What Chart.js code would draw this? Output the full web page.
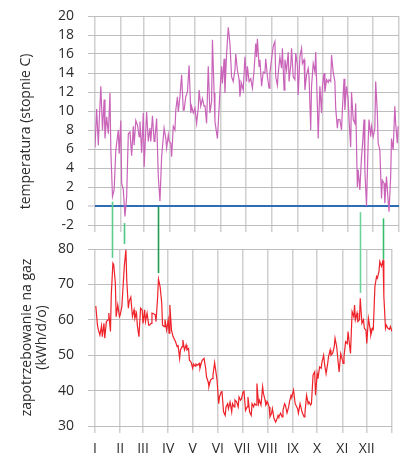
<!DOCTYPE html>
<html>
<head>
<meta charset="utf-8">
<script src="https://cdn.jsdelivr.net/npm/chart.js@4.4.1/dist/chart.umd.min.js"></script>
<style>
  body { margin: 0; background: #fff; overflow: hidden; }
  #wrap { position: relative; width: 400px; height: 458px; overflow: hidden; }
  canvas { position: absolute; left: 0; }
  #tempChart { top: -8px; }
  #gasChart { top: 190px; }
</style>
</head>
<body>
<div id="wrap">
  <canvas id="tempChart" width="400" height="257"></canvas>
  <canvas id="gasChart" width="400" height="268"></canvas>
</div>
<script>
// month boundaries (day of year) and labels
const monthStarts = [0, 31, 59, 90, 120, 151, 181, 212, 243, 273, 304, 334, 365];
const monthLabels = ['I', 'II', 'III', 'IV', 'V', 'VI', 'VII', 'VIII', 'IX', 'X', 'XI', 'XII'];

// daily temperature
const tempDays = [0,2,4,5,7,9,11,12,14,16,18,19,21,23,25,28,29,31,32,34,36,38,40,42,44,46,47,49,51,53,
  54,56,58,59,61,62,64,66,67,69,71,72,74,76,78,80,81,83,85,86,88,89,91,92,94,96,97,99,100,102,
  104,106,107,109,111,113,115,116,118,120,122,124,125,127,129,131,132,134,136,138,140,141,143,144,147,148,150,152,153,155,
  156,158,160,162,163,164,166,168,169,171,173,174,176,178,180,182,183,
  185,187,189,191,193,194,195,197,198,200,202,204,205,207,209,210,212,214,216,217,
  219,220,222,224,225,227,228,230,232,233,235,236,238,240,241,243,244,246,248,249,
  251,252,254,256,257,259,260,262,264,265,267,268,270,272,273,275,276,278,280,281,
  283,284,286,288,289,291,292,294,296,297,299,300,302,304,305,307,308,310,312,313,
  315,316,318,320,321,323,324,326,328,329,331,332,334,336,337,339,340,342,344,345,
  347,348,350,352,353,355,356,358,360,361,363,364];
const tempValues = [6.2,10.2,6.4,8.7,12.6,8.0,11.2,7.1,9.4,7.6,11.9,5.9,1.0,1.7,5.9,8.0,5.5,9.0,2.4,1.7,
  -1.1,1.0,7.6,7.8,5.3,8.4,6.4,9.0,8.5,7.3,8.9,5.6,9.8,4.1,8.0,9.9,6.8,8.2,6.8,9.5,
  6.8,7.1,9.2,3.1,0.5,5.2,6.2,8.2,7.1,6.1,7.5,6.8,6.6,5.2,8.4,8.0,10.1,11.5,9.9,11.5,
  13.8,10.1,10.1,11.5,12.0,14.8,9.8,10.5,9.8,10.3,8.7,10.3,12.2,10.5,11.3,10.5,10.6,8.7,14.7,9.8,
  11.0,17.5,11.9,8.9,7.1,8.7,12.0,14.7,12.9,15.5,11.9,16.0,18.8,17.1,15.4,13.6,13.1,14.3,16.0,14.3,
  13.3,11.5,12.9,12.2,15.7,13.1,14.7,
  13.1,13.4,12.4,14.3,17.1,15.7,17.6,14.7,15.4,12.6,14.1,14.0,15.5,13.6,12.4,14.0,15.5,16.8,17.3,13.6,
  12.7,14.0,15.7,14.5,16.6,12.2,15.4,14.3,16.2,13.1,14.8,16.6,13.6,13.3,16.1,14.8,11.7,15.7,16.6,15.0,
  15.4,12.2,13.8,14.5,13.6,8.0,12.6,15.0,14.1,16.2,10.5,7.1,12.6,9.8,12.6,14.0,12.0,13.3,13.0,13.3,
  13.1,15.9,14.1,13.1,10.3,8.2,9.1,9.1,8.0,10.1,13.4,10.1,12.6,11.2,9.1,6.2,12.0,9.1,8.7,10.8,
  2.0,3.8,1.7,5.2,6.2,9.1,3.8,0.0,6.8,9.1,7.3,8.4,7.3,8.2,13.1,9.8,6.6,5.9,0.8,2.7,
  2.4,0.3,3.1,0.5,-0.6,3.1,7.1,5.9,10.5,8.7,6.6,8.4];

// daily gas demand (kWh/d/o)
const gasDays = [1,3,4,6,8,9,11,12,14,16,17,19,20,22,23,25,26,28,30,31,
  33,34,36,38,39,41,42,44,46,48,49,51,52,54,56,58,59,61,62,64,
  66,67,69,70,72,74,75,77,78,80,82,83,85,86,88,90,91,92,94,96,
  98,99,101,102,104,105,107,108,110,112,113,115,116,118,120,121,123,124,126,128,
  129,131,132,134,136,137,139,140,142,144,145,147,148,150,152,153,155,156,158,160,
  161,163,164,166,168,169,171,172,174,176,177,179,180,182,183,
  185,187,188,190,192,193,195,196,198,199,201,202,204,206,207,209,210,212,214,215,
  217,218,220,222,223,225,226,228,230,231,233,234,236,238,239,241,242,244,246,247,
  249,250,252,254,255,257,258,260,262,263,265,266,268,270,271,273,274,276,278,279,
  281,282,284,286,287,289,290,292,294,295,297,298,300,302,303,305,306,308,310,311,
  313,314,316,318,319,320,322,323,325,326,328,330,331,333,334,336,338,339,341,342,
  344,346,347,349,350,352,354,355,357,358,360,362,363,365];
const gasValues = [63.9,58.5,57.3,55.7,58.3,55.2,59.0,54.8,59.5,60.0,61.9,56.7,67.0,76.0,75.6,70.4,60.9,64.2,60.9,61.4,
  63.7,67.5,75.1,79.8,71.3,63.3,65.2,66.4,60.9,62.8,60.4,61.9,58.5,55.2,63.3,62.8,59.0,62.8,59.5,61.9,
  58.5,58.5,59.0,61.9,61.7,61.4,59.5,66.6,71.5,69.4,64.7,58.5,58.1,60.0,57.1,60.0,56.2,64.2,57.1,55.2,
  54.3,53.8,52.4,52.9,49.1,51.5,52.4,54.3,51.5,52.9,51.5,51.9,48.6,48.1,46.3,47.5,46.9,47.5,47.2,47.7,
  46.3,48.1,48.6,49.1,46.3,43.9,42.5,41.1,43.0,43.4,44.4,47.9,46.3,43.0,36.3,38.2,39.6,39.9,34.0,33.0,
  35.4,36.3,34.9,36.8,34.0,36.3,35.4,37.3,36.8,35.4,38.2,37.3,37.7,39.6,40.1,
  34.4,35.4,38.2,34.0,33.0,36.3,35.4,36.3,35.9,42.0,36.3,37.3,35.9,41.1,39.2,37.3,35.9,36.8,35.4,32.6,
  33.6,34.9,32.1,31.1,31.6,33.0,32.6,33.6,32.6,34.4,36.3,35.9,33.7,35.4,36.8,38.7,38.4,40.1,36.3,36.3,
  34.9,33.6,36.3,34.4,33.6,32.6,33.6,38.7,36.3,36.8,35.9,36.3,44.4,45.3,38.7,44.8,43.4,46.7,46.3,48.1,
  50.0,47.7,44.8,47.7,49.6,51.5,50.0,50.5,52.4,54.8,52.4,50.0,45.3,50.5,49.6,47.7,49.6,53.8,53.3,56.7,
  52.4,50.5,62.3,60.9,64.2,60.0,61.9,59.5,60.0,66.1,59.0,60.0,57.6,57.1,53.3,60.4,57.6,55.7,57.6,57.3,
  69.4,72.2,71.8,73.7,76.5,75.1,76.8,66.6,57.6,58.5,57.6,57.3,58.1,56.7];

// green connectors: cold day -> demand peak
const linkDays = [21.2, 36, 78, 326.2, 354.5];
const linkTemp = [0.45, -1.8, -0.1, -0.65, -1.3];
const linkGas = [77.5, 81.4, 73.2, 67.6, 77.1];
const linkColors = ['#5ccd8c', '#4cc784', '#1f9d55', '#6cd39b', '#35c070'];

Chart.defaults.font.family = "'Open Sans', sans-serif";
Chart.defaults.font.size = 14;
Chart.defaults.color = '#2b2b2b';

const gridGrey = '#bdbdc1';

function xAxis(showLabels) {
  return {
    type: 'linear',
    min: 0,
    max: 365,
    afterBuildTicks: s => { s.ticks = monthStarts.map(v => ({ value: v })); },
    grid: { color: '#cfcfcf', lineWidth: 1.5, tickLength: 7, tickColor: '#cfcfcf' },
    border: { display: false },
    ticks: {
      display: showLabels,
      autoSkip: false,
      maxRotation: 0,
      padding: 8,
      callback: (v, i) => monthLabels[i] || ''
    },
    afterFit: s => { s.height = showLabels ? 32 : 24; }
  };
}

const tempChart = new Chart(document.getElementById('tempChart'), {
  type: 'line',
  data: {
    datasets: [{
      data: tempDays.map((d, i) => ({ x: d, y: tempValues[i] })),
      borderColor: '#c964b9',
      borderWidth: 1.2,
      pointRadius: 0,
      tension: 0
    }]
  },
  options: {
    responsive: false,
    animation: false,
    events: [],
    layout: { padding: { top: 24, right: 1, left: 0, bottom: 0 } },
    plugins: { legend: { display: false }, tooltip: { enabled: false } },
    scales: {
      x: xAxis(false),
      y: {
        min: -2,
        max: 20,
        ticks: { stepSize: 2, padding: 14, autoSkip: false },
        grid: {
          color: c => c.tick.value === 0 ? '#2e6db5' : gridGrey,
          lineWidth: c => c.tick.value === 0 ? 2 : 1,
          tickColor: gridGrey,
          tickWidth: 1,
          tickLength: 7
        },
        border: { display: false },
        title: {
          display: true,
          text: 'temperatura (stopnie C)' + '\u00a0'.repeat(6),
          padding: { top: 18, bottom: 0 },
          font: { size: 14 }
        },
        afterFit: s => { s.width = 95; }
      }
    }
  }
});

// green vertical connectors, drawn on the lower canvas;
// the upper end comes from the temperature chart's own y scale
const linksPlugin = {
  id: 'links',
  afterDatasetsDraw(chart) {
    const ctx = chart.ctx;
    const shift = tempChart.canvas.offsetTop - chart.canvas.offsetTop;
    ctx.save();
    ctx.lineWidth = 1.6;
    linkDays.forEach((d, i) => {
      const px = Math.round(chart.scales.x.getPixelForValue(d)) + 0.5;
      const y1 = tempChart.scales.y.getPixelForValue(linkTemp[i]) + shift;
      const y2 = chart.scales.y.getPixelForValue(linkGas[i]);
      ctx.strokeStyle = linkColors[i];
      ctx.beginPath();
      ctx.moveTo(px, y1);
      ctx.lineTo(px, y2);
      ctx.stroke();
    });
    ctx.restore();
  }
};

new Chart(document.getElementById('gasChart'), {
  type: 'line',
  data: {
    datasets: [{
      data: gasDays.map((d, i) => ({ x: d, y: gasValues[i] })),
      borderColor: '#ee2229',
      borderWidth: 1.2,
      pointRadius: 0,
      tension: 0
    }]
  },
  options: {
    responsive: false,
    animation: false,
    events: [],
    layout: { padding: { top: 59, right: 1, left: 0, bottom: 0 } },
    plugins: { legend: { display: false }, tooltip: { enabled: false } },
    scales: {
      x: xAxis(true),
      y: {
        min: 30,
        max: 80,
        ticks: { stepSize: 10, padding: 14, autoSkip: false },
        grid: { color: gridGrey, lineWidth: 1, tickColor: gridGrey, tickLength: 7 },
        border: { display: false },
        title: {
          display: true,
          text: ['zapotrzebowanie na gaz', '(kWh/d/o)'],
          padding: { top: 20, bottom: 0 },
          font: { size: 14, lineHeight: 15 / 14 }
        },
        afterFit: s => { s.width = 95; }
      }
    }
  },
  plugins: [linksPlugin]
});
</script>
</body>
</html>
